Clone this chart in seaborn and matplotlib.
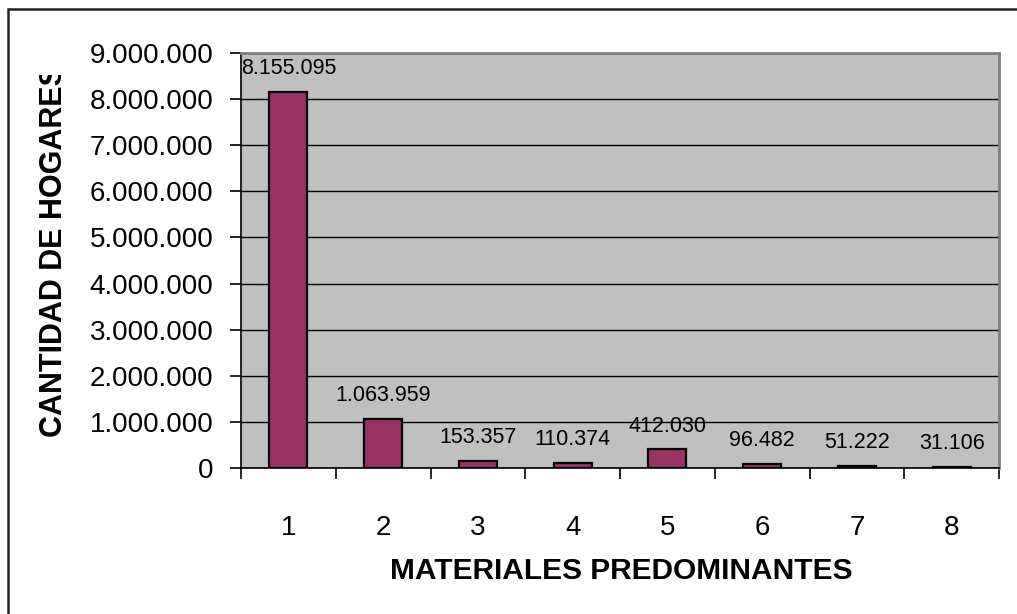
import matplotlib
matplotlib.use("Agg")
import matplotlib.pyplot as plt
from matplotlib.patches import Rectangle
from matplotlib.transforms import Bbox, TransformedBbox
from matplotlib.ticker import FuncFormatter
import seaborn as sns

categories = ["1", "2", "3", "4", "5", "6", "7", "8"]
hogares = [8155095, 1063959, 153357, 110374, 412030, 96482, 51222, 31106]
y_ticks = [0, 1000000, 2000000, 3000000, 4000000, 5000000, 6000000, 7000000, 8000000, 9000000]


def miles(v, pos=None):
    return f"{int(round(v)):,}".replace(",", ".")


sns.set_theme(style="white")
plt.rcParams["font.family"] = ["Liberation Sans", "DejaVu Sans"]
plt.rcParams.update({"text.color": "black", "xtick.color": "black",
                     "ytick.color": "black", "axes.labelcolor": "black"})

W, H = 1017, 614
fig = plt.figure(figsize=(W / 100, H / 100), dpi=100)
fig.patch.set_facecolor("white")

# plot area in pixel terms
left, right, top, bottom = 241, 999, 53, 468
ax = fig.add_axes([left / W, 1 - bottom / H, (right - left) / W, (bottom - top) / H])
ax.set_facecolor("#C0C0C0")

sns.barplot(x=categories, y=hogares, color="#993366", width=0.4,
            edgecolor="black", linewidth=1.6, saturation=1, ax=ax, zorder=3)

ax.set_xlim(-0.5, len(categories) - 0.5)
ax.set_ylim(y_ticks[0], y_ticks[-1])
ax.set_yticks(y_ticks)
ax.yaxis.set_major_formatter(FuncFormatter(miles))
ax.grid(axis="y", color="black", linewidth=1.0, zorder=1)
ax.set_axisbelow(True)

# tick marks on category boundaries, labels at centres
ax.set_xticks([i - 0.5 for i in range(len(categories) + 1)], labels=[""] * (len(categories) + 1))
ax.set_xticks(range(len(categories)), labels=categories, minor=True)
ax.tick_params(axis="x", which="major", direction="out", length=8, width=1.2, color="black", bottom=True)
ax.tick_params(axis="x", which="minor", length=0, pad=34, labelsize=20, labelcolor="black")
ax.tick_params(axis="y", direction="out", length=8, width=1.2, color="black", left=True,
               pad=12, labelsize=20, labelcolor="black")
ax.set_xlabel("")
ax.set_ylabel("")

for side in ("top", "right"):
    ax.spines[side].set_color("#808080")
    ax.spines[side].set_linewidth(2.0)
for side in ("left", "bottom"):
    ax.spines[side].set_color("black")
    ax.spines[side].set_linewidth(1.2)

for i, v in enumerate(hogares):
    ax.annotate(miles(v), (i, v), xytext=(0, 9), textcoords="offset points",
                ha="center", va="bottom", fontsize=15.5, color="black", zorder=5)

fig.text(621 / W, 1 - 571 / H, "MATERIALES PREDOMINANTES", ha="center", va="center",
         fontsize=21.5, fontweight="bold", color="black")
ylab = fig.text(54 / W, 1 - 437 / H, "CANTIDAD DE HOGARES", ha="center", va="bottom",
                rotation=90, fontsize=22, fontweight="bold", color="black")
ylab.set_clip_box(TransformedBbox(Bbox([[0, 0], [1, 1 - 75 / H]]), fig.transFigure))
ylab.set_clip_on(True)

# chart frame
fig.patches.append(Rectangle((8 / W, -0.1), 1.2, 1 - 9 / H + 0.1, transform=fig.transFigure,
                             fill=False, edgecolor="#222222", linewidth=1.8, zorder=10))

fig.savefig("out.png", dpi=100, facecolor="white")
